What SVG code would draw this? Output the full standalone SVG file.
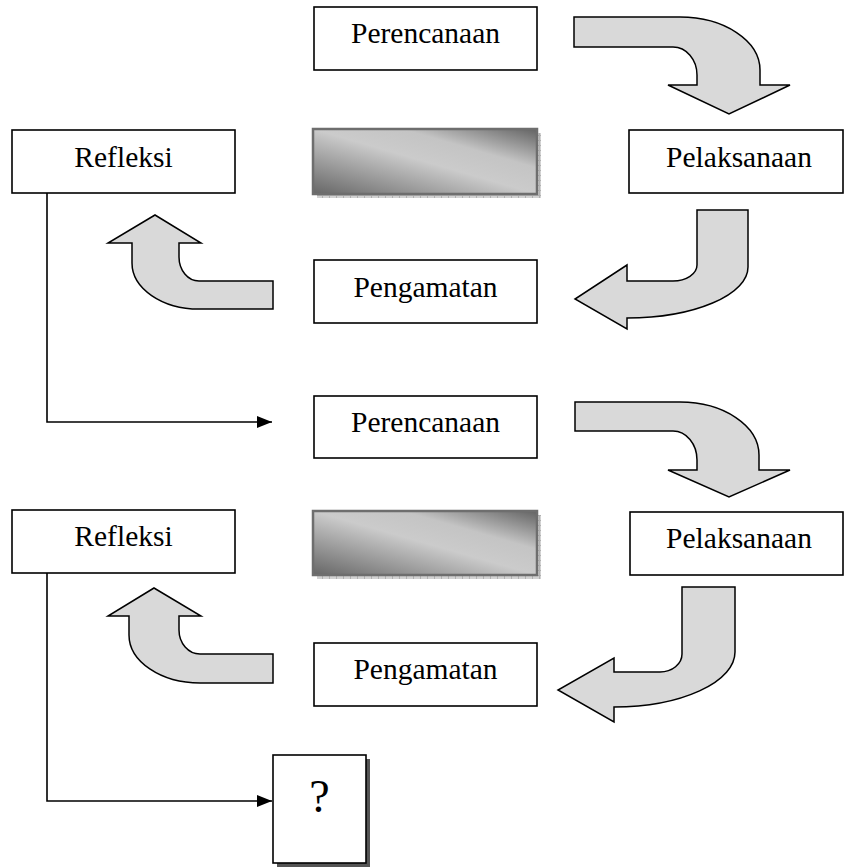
<svg xmlns="http://www.w3.org/2000/svg" width="845" height="867" viewBox="0 0 845 867">
<style>
.box{fill:#fff;stroke:#000;stroke-width:1.6}
.lbl{font-family:"Liberation Serif","Times New Roman",serif;font-size:29.5px;fill:#000;text-anchor:middle}
.arr{fill:#d9d9d9;stroke:#000;stroke-width:1.5;stroke-linejoin:miter}
.con{fill:none;stroke:#000;stroke-width:1.6}
.grad{fill:url(#g);stroke:#6e6e6e;stroke-width:2.5}
.gsh{fill:url(#hatch)}
</style>
<defs>
<linearGradient id="g" x1="0" y1="1" x2="1" y2="0">
<stop offset="0" stop-color="#666"/>
<stop offset="0.5" stop-color="#cbcbcb"/>
<stop offset="0.7" stop-color="#c4c4c4"/>
<stop offset="1" stop-color="#636363"/>
</linearGradient>
<pattern id="hatch" width="7" height="5" patternUnits="userSpaceOnUse">
<rect width="7" height="5" fill="#d2d2d2"/>
<path d="M0,0.5H7M0.5,0V5" stroke="#b0b0b0" stroke-width="1"/>
</pattern>
<marker id="ah" markerWidth="16" markerHeight="12" refX="15" refY="6" orient="auto" markerUnits="userSpaceOnUse">
<path d="M0,0 L15,6 L0,12 Z" fill="#000"/>
</marker>
</defs>

<g id="connectors">
<path class="con" d="M47,193 V422 H272" marker-end="url(#ah)"/>
<path class="con" d="M47,573 V801 H272" marker-end="url(#ah)"/>
</g>

<g id="arrows">
<path id="arrow1" class="arr" d="M574,17 L680,17 A80,53 0 0 1 760,70 L760,85 L790,85 L729,114 L668,85 L697,85 L697,75 A24,28 0 0 0 673,47 L574,47 Z"/>
<path id="arrow2" class="arr" d="M697,210 L748,210 L748,267 A121,51 0 0 1 627,318 L627,329 L575,299 L627,265 L627,281 L673,281 A24,16 0 0 0 697,265 Z"/>
<path id="arrow3" class="arr" d="M155,215 L201,243 L179,243 L179,257 A20,24 0 0 0 199,281 L273,281 L273,309 L199,309 A67,46 0 0 1 132,263 L132,243 L108,243 Z"/>
<path id="arrow4" class="arr" d="M575,402 L680,402 A79,53 0 0 1 759,455 L759,470 L790,470 L729,497 L668,470 L697,470 L697,460 A24,29 0 0 0 673,431 L575,431 Z"/>
<path id="arrow5" class="arr" d="M682,587 L735,587 L735,652 A121,55 0 0 1 614,707 L614,722 L558,690 L614,658 L614,672 L660,672 A22,18 0 0 0 682,654 Z"/>
<path id="arrow6" class="arr" d="M154,588 L201,616 L179,616 L179,630 A21,24 0 0 0 200,654 L273,654 L273,683 L200,683 A71,48 0 0 1 129,635 L129,616 L108,616 Z"/>
</g>

<g id="perencanaan1"><rect class="box" x="314" y="7" width="223" height="63"/><text class="lbl" x="425.5" y="43">Perencanaan</text></g>
<g id="refleksi1"><rect class="box" x="12" y="130" width="223" height="63"/><text class="lbl" x="123.5" y="167">Refleksi</text></g>
<g id="blank1"><rect class="gsh" x="317" y="133" width="224" height="65"/><rect class="grad" x="313" y="129" width="224" height="65"/></g>
<g id="pelaksanaan1"><rect class="box" x="629" y="130" width="214" height="63"/><text class="lbl" x="739" y="167">Pelaksanaan</text></g>
<g id="pengamatan1"><rect class="box" x="314" y="260" width="223" height="63"/><text class="lbl" x="425.5" y="297">Pengamatan</text></g>

<g id="perencanaan2"><rect class="box" x="314" y="396" width="223" height="62"/><text class="lbl" x="425.5" y="432">Perencanaan</text></g>
<g id="refleksi2"><rect class="box" x="12" y="510" width="223" height="63"/><text class="lbl" x="123.5" y="546">Refleksi</text></g>
<g id="blank2"><rect class="gsh" x="317" y="515" width="224" height="64"/><rect class="grad" x="313" y="511" width="224" height="64"/></g>
<g id="pelaksanaan2"><rect class="box" x="630" y="512" width="213" height="63"/><text class="lbl" x="739" y="548">Pelaksanaan</text></g>
<g id="pengamatan2"><rect class="box" x="314" y="643" width="223" height="63"/><text class="lbl" x="425.5" y="679">Pengamatan</text></g>

<g id="question">
<rect x="277" y="759" width="93" height="108" fill="#555"/>
<rect class="box" x="273" y="755" width="93" height="108"/>
<text x="319.5" y="812" font-family="'Liberation Serif','Times New Roman',serif" font-size="46" text-anchor="middle">?</text>
</g>
</svg>
